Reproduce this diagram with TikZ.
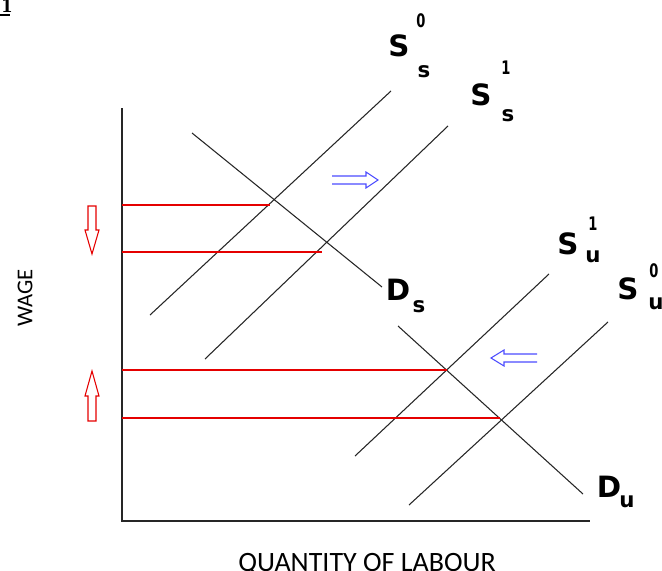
\documentclass[tikz,border=0pt]{standalone}
\usepackage{fontspec}
\setmainfont{Carlito}
\newfontfamily\lblfont{DejaVu Sans}
\newfontfamily\serifnum{Liberation Serif}
\begin{document}
\begin{tikzpicture}[x=0.75pt,y=-0.75pt,
  curve/.style={black!85,line width=0.8pt},
  redline/.style={red!90!black,line width=0.8pt},
  axis/.style={black!85,line width=1.5pt},
  big/.style={font=\lblfont\bfseries\fontsize{22}{22}\selectfont,inner sep=0pt},
  small/.style={font=\lblfont\bfseries\fontsize{16}{16}\selectfont,inner sep=0pt},
  tiny/.style={font=\lblfont\bfseries\fontsize{14}{14}\selectfont,inner sep=0pt,xscale=0.7},
  axlabel/.style={font=\fontsize{21}{21}\selectfont,inner sep=0pt},
  redarrow/.style={draw=red!90!black,line width=0.8pt,fill=white},
  bluearrow/.style={draw=blue!70,line width=0.8pt}]
\useasboundingbox (0,0) rectangle (662,571);
% corner fragment
\node[font=\serifnum\bfseries\fontsize{16}{16}\selectfont,inner sep=0pt,anchor=south] (frag) at (7,13) {1};
\draw[line width=1.4pt] (0,15) -- (10,15);
% axes
\coordinate (o) at (122,521);
\coordinate (ytop) at (122,108);
\coordinate (xend) at (590,521);
\draw[axis] (ytop) -- (o) -- (xend);
% supply and demand lines
\coordinate (ss0a) at (150,315); \coordinate (ss0b) at (391,91);
\coordinate (ss1a) at (205,359); \coordinate (ss1b) at (448,126);
\coordinate (dsa) at (192,133); \coordinate (dsb) at (382,287);
\coordinate (dua) at (398,326); \coordinate (dub) at (583,494);
\coordinate (su1a) at (355,456); \coordinate (su1b) at (549,274);
\coordinate (su0a) at (409,505); \coordinate (su0b) at (608,322);
\draw[curve] (ss0a) -- (ss0b);
\draw[curve] (ss1a) -- (ss1b);
\draw[curve] (dsa) -- (dsb);
\draw[curve] (dua) -- (dub);
\draw[curve] (su1a) -- (su1b);
\draw[curve] (su0a) -- (su0b);
% equilibria
\coordinate (e1) at (270,205);
\coordinate (e2) at (322,252);
\coordinate (e3) at (447,370);
\coordinate (e4) at (500,418);
\coordinate (w1) at (122,205);
\coordinate (w2) at (122,252);
\coordinate (w3) at (122,370);
\coordinate (w4) at (122,418);
\draw[redline] (w1) -- (e1);
\draw[redline] (w2) -- (e2);
\draw[redline] (w3) -- (e3);
\draw[redline] (w4) -- (e4);
% red block arrows
\draw[redarrow] (88,206) -- (96,206) -- (96,230) -- (99,230) -- (92,254) -- (85,230) -- (88,230) -- cycle;
\draw[redarrow] (88,421) -- (96,421) -- (96,396) -- (99,396) -- (92,371) -- (85,396) -- (88,396) -- cycle;
% blue arrows
\draw[bluearrow] (332,176) -- (366,176) -- (366,172) -- (378,180) -- (366,188) -- (366,184) -- (332,184);
\draw[bluearrow] (537,354) -- (504,354) -- (504,350) -- (491,358) -- (504,366) -- (504,362) -- (537,362);
% labels
\node[big] (lss0) at (399,46) {S};
\node[tiny] (lss0sup) at (421,21) {0};
\node[small] (lss0sub) at (424,72) {s};
\node[big] (lss1) at (481,95) {S};
\node[tiny] (lss1sup) at (506,68) {1};
\node[small] (lss1sub) at (508,116) {s};
\node[big] (lsu1) at (568,244) {S};
\node[tiny] (lsu1sup) at (593,224) {1};
\node[small] (lsu1sub) at (593,257) {u};
\node[big] (lsu0) at (628,289) {S};
\node[tiny] (lsu0sup) at (654,271) {0};
\node[small] (lsu0sub) at (656,304) {u};
\node[big] (lds) at (398,290) {D};
\node[small] (ldssub) at (419,307) {s};
\node[big] (ldu) at (609,487) {D};
\node[small] (ldusub) at (627,502) {u};
\node[font=\fontsize{17}{17}\selectfont,inner sep=0pt,rotate=90] (wage) at (25,298) {WAGE};
\node[axlabel,anchor=base] (qty) at (367,571) {QUANTITY OF LABOUR};
\end{tikzpicture}
\end{document}
